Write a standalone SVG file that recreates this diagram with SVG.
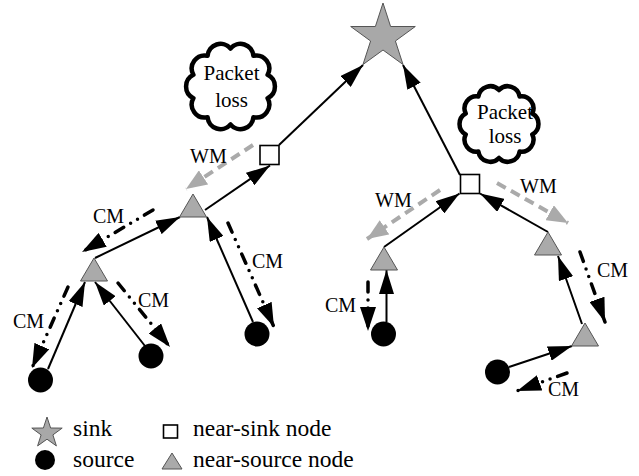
<svg xmlns="http://www.w3.org/2000/svg" width="639" height="476" viewBox="0 0 639 476">
<style>
text{font-family:'Liberation Serif','DejaVu Serif',serif;fill:#000}
.lbl{font-size:20px}
.cl{font-size:21px}
.lg{font-size:23.5px}
.solid{stroke:#000;stroke-width:2;fill:none;marker-end:url(#ab)}
.cm{stroke:#000;stroke-width:3.5;fill:none;stroke-dasharray:10 8 0 8 0 8;stroke-linecap:round;marker-end:url(#ac)}
.wm{stroke:#aaa;stroke-width:4;fill:none;stroke-dasharray:10 6;marker-end:url(#ag)}
.tri{fill:#aaa;stroke:#555;stroke-width:1}
.sq{fill:#fff;stroke:#000;stroke-width:1.6}
.src{fill:#000}
.star{fill:#a8a8a8;stroke:#555;stroke-width:1}
.cloud{fill:#fff;stroke:#000;stroke-width:4.5;stroke-linejoin:round}
</style>
<defs>
<marker id="ab" viewBox="0 0 24 15" refX="24" refY="7.5" markerWidth="24" markerHeight="15" markerUnits="userSpaceOnUse" orient="auto"><path d="M0,0 L24,7.5 L0,15 z" fill="#000"/></marker>
<marker id="ac" viewBox="0 0 24 16" refX="24" refY="8" markerWidth="24" markerHeight="16" markerUnits="userSpaceOnUse" orient="auto"><path d="M0,0 L24,8 L0,16 z" fill="#000"/></marker>
<marker id="ag" viewBox="0 0 21 17" refX="21" refY="8.5" markerWidth="21" markerHeight="17" markerUnits="userSpaceOnUse" orient="auto"><path d="M0,0 L21,8.5 L0,17 z" fill="#aaa"/></marker>
</defs>

<g id="cloud1">
<path class="cloud" d="M230.5,48.5 A13,13 0 0 1 253.4,55.8 A13,13 0 0 1 267.6,74.8 A13,13 0 0 1 267.6,98.2 A13,13 0 0 1 253.4,117.2 A13,13 0 0 1 230.5,124.5 A13,13 0 0 1 207.6,117.2 A13,13 0 0 1 193.4,98.2 A13,13 0 0 1 193.4,74.8 A13,13 0 0 1 207.6,55.8 A13,13 0 0 1 230.5,48.5 Z"/>
<text class="cl" x="231.5" y="80" text-anchor="middle">Packet</text>
<text class="cl" x="231.5" y="107" text-anchor="middle">loss</text>
</g>
<g id="cloud2">
<path class="cloud" d="M499,90 A12,12 0 0 1 519.6,96.5 A12,12 0 0 1 532.3,113.5 A12,12 0 0 1 532.3,134.5 A12,12 0 0 1 519.6,151.5 A12,12 0 0 1 499,158 A12,12 0 0 1 478.4,151.5 A12,12 0 0 1 465.7,134.5 A12,12 0 0 1 465.7,113.5 A12,12 0 0 1 478.4,96.5 A12,12 0 0 1 499,90 Z"/>
<text class="cl" x="505" y="119" text-anchor="middle">Packet</text>
<text class="cl" x="505" y="143" text-anchor="middle">loss</text>
</g>

<g id="connectors">
<line class="solid" x1="205" y1="210" x2="270" y2="165.5"/>
<line class="solid" x1="279" y1="145" x2="363" y2="65"/>
<line class="solid" x1="460" y1="175" x2="403" y2="65"/>
<line class="solid" x1="384" y1="247" x2="459.5" y2="193.5"/>
<line class="solid" x1="548" y1="232" x2="480" y2="193.5"/>
<line class="solid" x1="386.5" y1="322" x2="386.5" y2="270"/>
<line class="solid" x1="509" y1="367" x2="572" y2="346"/>
<line class="solid" x1="582" y1="324" x2="558" y2="256"/>
<line class="solid" x1="95" y1="258" x2="180" y2="217"/>
<line class="solid" x1="48" y1="369" x2="85" y2="282"/>
<line class="solid" x1="145" y1="346" x2="95" y2="282"/>
<line class="solid" x1="253" y1="322" x2="207" y2="217"/>

<line class="wm" x1="253" y1="145" x2="186" y2="189"/>
<line class="wm" x1="440" y1="190" x2="367" y2="239"/>
<line class="wm" x1="497" y1="183" x2="568" y2="223"/>

<line class="cm" x1="153" y1="210" x2="82" y2="252"/>
<line class="cm" x1="68" y1="287" x2="32" y2="368"/>
<line class="cm" x1="118" y1="283" x2="170" y2="347"/>
<line class="cm" x1="228" y1="223" x2="274" y2="327"/>
<line class="cm" x1="368" y1="282" x2="368" y2="331"/>
<line class="cm" x1="580" y1="252" x2="605" y2="322"/>
<line class="cm" x1="567" y1="373" x2="517" y2="391"/>
</g>

<g id="labels">
<text class="lbl" x="190" y="163">WM</text>
<text class="lbl" x="375" y="207">WM</text>
<text class="lbl" x="520" y="193">WM</text>
<text class="lbl" x="93" y="223">CM</text>
<text class="lbl" x="13" y="328">CM</text>
<text class="lbl" x="138" y="307">CM</text>
<text class="lbl" x="252" y="268">CM</text>
<text class="lbl" x="325" y="312">CM</text>
<text class="lbl" x="597" y="277">CM</text>
<text class="lbl" x="548" y="396">CM</text>
</g>

<g id="sink"><polygon class="star" points="383,3 390.6,26.5 415.3,26.5 395.4,41 403,64.5 383,50 363,64.5 370.6,41 350.7,26.5 375.4,26.5"/></g>
<g id="nearSinkL"><rect class="sq" x="260" y="145.5" width="19" height="19"/></g>
<g id="nearSinkR"><rect class="sq" x="460.5" y="174.5" width="19" height="19"/></g>
<g id="T1"><polygon class="tri" points="193,194 206.5,217 179.5,217"/></g>
<g id="T2"><polygon class="tri" points="94,258 107.5,281 80.5,281"/></g>
<g id="T3"><polygon class="tri" points="384,247 397.5,270 370.5,270"/></g>
<g id="T4"><polygon class="tri" points="548,232 561.5,255 534.5,255"/></g>
<g id="T5"><polygon class="tri" points="585,323 598.5,346 571.5,346"/></g>
<g id="S1"><circle class="src" cx="40.5" cy="380" r="12.5"/></g>
<g id="S2"><circle class="src" cx="151" cy="356" r="12.5"/></g>
<g id="S3"><circle class="src" cx="257" cy="334" r="12.5"/></g>
<g id="S4"><circle class="src" cx="383.5" cy="334" r="12.5"/></g>
<g id="S5"><circle class="src" cx="497.5" cy="372" r="12.5"/></g>

<g id="legend">
<polygon class="star" points="47,417 50.6,428 62.2,428.1 52.9,434.9 56.4,445.9 47,439.2 37.6,445.9 41.1,434.9 31.8,428.1 43.4,428"/>
<text class="lg" x="73" y="436">sink</text>
<rect class="sq" x="163.5" y="425" width="14" height="13"/>
<text class="lg" x="193" y="436">near-sink node</text>
<circle class="src" cx="45" cy="460" r="10"/>
<text class="lg" x="73" y="467">source</text>
<polygon class="tri" points="172,453 182,469 162,469"/>
<text class="lg" x="193" y="467">near-source node</text>
</g>
</svg>
